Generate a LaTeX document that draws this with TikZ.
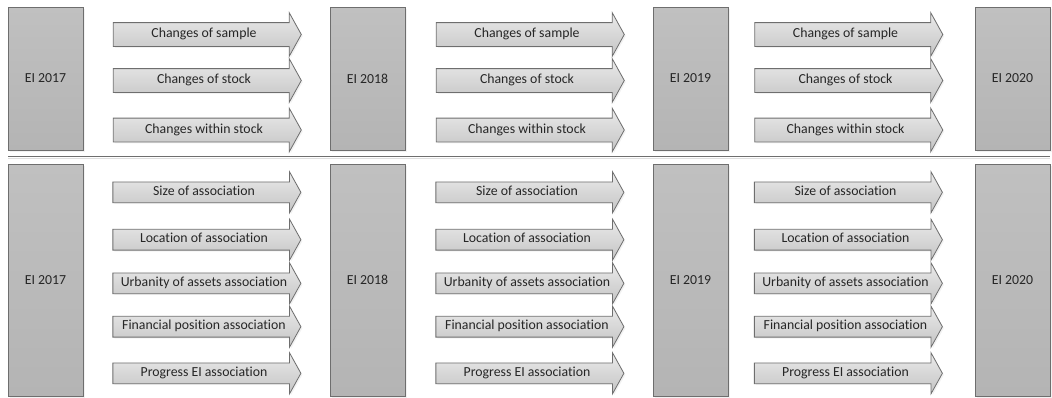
\documentclass[tikz,border=0pt]{standalone}
\usepackage{fontspec}
\setmainfont{Carlito}[Ligatures=NoCommon]
\usetikzlibrary{shapes.arrows,shadows}

\definecolor{edgegray}{HTML}{6E6E6E}
\definecolor{boxtop}{HTML}{C0C0C0}
\definecolor{boxbottom}{HTML}{B4B4B4}
\definecolor{arrowtop}{HTML}{EAEAEA}
\definecolor{arrowbottom}{HTML}{C4C4C4}
\definecolor{labeltext}{HTML}{262626}

\tikzset{
  yearbox/.style={draw=edgegray, line width=0.8pt, top color=boxtop, bottom color=boxbottom,
    minimum width=75pt, inner sep=0pt,
    drop shadow={shadow xshift=1.5pt, shadow yshift=-1.5pt, opacity=0.1}},
  flowarrow/.style={single arrow, draw=edgegray, line width=0.8pt, top color=arrowtop, bottom color=arrowbottom,
    minimum height=188pt, single arrow head extend=10pt, single arrow tip angle=122,
    text height=9.5pt, text depth=3pt, inner xsep=1pt, inner ysep=#1,
    drop shadow={shadow xshift=1.5pt, shadow yshift=-1.5pt, opacity=0.1}},
  flowarrow/.default=5.25pt
}

\begin{document}
\begin{tikzpicture}[x=1pt, y=-1pt, every node/.style={font=\fontsize{13.8}{16}\selectfont, text=labeltext}]
    \useasboundingbox (0,0) rectangle (1052,397);

    % Jaren boven
    \foreach \bx/\yr in {45.5/2017, 367.5/2018, 690.5/2019, 1012.5/2020} {
        \node[yearbox, minimum height=143pt] (top\yr) at (\bx,78.5) {EI \yr};
    }

    % Pijlen boven
    \foreach \ax/\g in {204/1, 527/2, 845.5/3} {
        \node[flowarrow] (top\g a) at (\ax,34.5) {Changes of sample};
        \node[flowarrow] (top\g b) at (\ax,80.5) {Changes of stock};
        \node[flowarrow] (top\g c) at (\ax,130) {Changes within stock};
    }

    % Scheidingslijn
    \coordinate (sepL) at (8,156);
    \coordinate (sepR) at (1050,156);
    \draw[gray!25, line width=1.4pt] ([yshift=-2.5pt]sepL) -- ([yshift=-2.5pt]sepR);
    \draw[edgegray, line width=1pt] (sepL) -- (sepR);

    % Jaren onder
    \foreach \bx/\yr in {45.5/2017, 367.5/2018, 690.5/2019, 1012.5/2020} {
        \node[yearbox, minimum height=232pt] (bot\yr) at (\bx,280) {EI \yr};
    }

    % Pijlen onder
    \foreach \ax/\g in {204/1, 527/2, 845.5/3} {
        \node[flowarrow=3.75pt] (bot\g a) at (\ax,192.3) {Size of association};
        \node[flowarrow=3.75pt] (bot\g b) at (\ax,239.7) {Location of association};
        \node[flowarrow=3.75pt] (bot\g c) at (\ax,283.3) {Urbanity of assets association};
        \node[flowarrow=3.75pt] (bot\g d) at (\ax,326.7) {Financial position association};
        \node[flowarrow=3.75pt] (bot\g e) at (\ax,373.3) {Progress EI association};
    }
\end{tikzpicture}
\end{document}
